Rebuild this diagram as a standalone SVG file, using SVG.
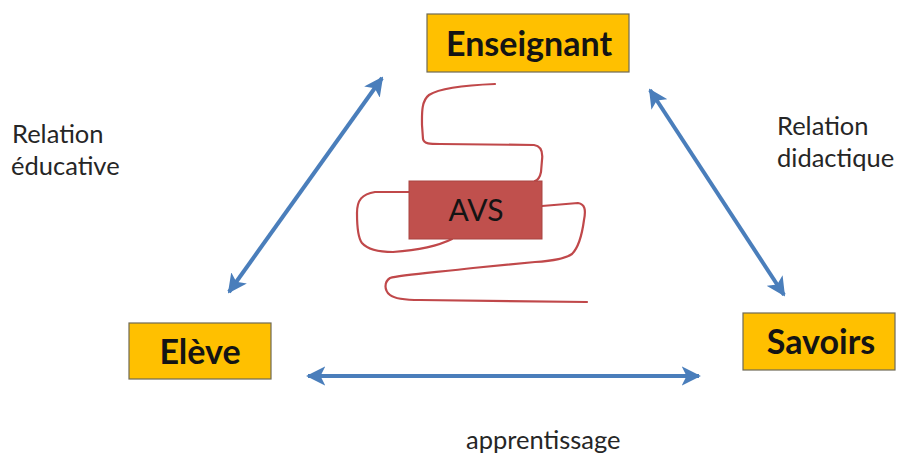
<svg xmlns="http://www.w3.org/2000/svg" width="897" height="455" viewBox="0 0 897 455">
  <style>
    .node rect { fill: #ffc000; stroke: #6f6a55; stroke-width: 1.2; }
    .node text { font-family: Lato, "Open Sans", sans-serif; font-weight: bold; font-size: 34px; fill: #141414; text-anchor: middle; }
    .label { font-family: Lato, "Open Sans", sans-serif; font-size: 25.5px; fill: #262626; }
    .link { stroke: #4a7ebb; stroke-width: 4; fill: none; marker-start: url(#head); marker-end: url(#head); }
    .scribble { stroke: #c0484a; stroke-width: 2.2; fill: none; stroke-linecap: round; stroke-linejoin: round; }
  </style>
  <defs>
    <marker id="head" viewBox="0 0 10 10" refX="9" refY="5" markerWidth="4.8" markerHeight="4.8" orient="auto-start-reverse" markerUnits="strokeWidth">
      <path d="M0,0 L10,5 L0,10 L2.5,5 Z" fill="#4a7ebb"/>
    </marker>
  </defs>

  <rect width="897" height="455" fill="#ffffff"/>

  <!-- connectors -->
  <g id="connectors">
    <line class="link" x1="229" y1="292" x2="382" y2="78"/>
    <line class="link" x1="650" y1="90" x2="784" y2="295"/>
    <line class="link" x1="308" y1="376" x2="699" y2="376"/>
  </g>

  <!-- hand-drawn scribble around the AVS box -->
  <g id="scribble">
    <path class="scribble" d="M495,84 C470,85 440,88 429,95 C421,101 422,115 422,125 L423,139 C424,144 430,144 440,144 L534,145 C541,146 543,152 542,160 L541,172 C540,177 538,180 535,181"/>
    <path class="scribble" d="M409,192 L375,192 C362,194 357,200 357,213 C357,228 358,238 362,243 C368,250 380,252 393,252 C420,250 440,245 452,239"/>
    <path class="scribble" d="M542,206 L578,203 C585,204 586,210 584,220 C582,235 578,248 572,254 C565,259 550,261 535,262 L473,268 C440,272 400,275 390,278 C384,282 384,290 390,295 C395,299 405,300 420,300 L587,302"/>
  </g>

  <g id="avs">
    <rect x="409" y="181" width="133" height="58" fill="#c0504d" stroke="#a94442" stroke-width="1"/>
    <text x="476" y="221" font-family="Lato, 'Open Sans', sans-serif" font-size="30" fill="#141414" text-anchor="middle">AVS</text>
  </g>

  <g id="enseignant" class="node">
    <rect x="427" y="14" width="202" height="58"/>
    <text x="529" y="56">Enseignant</text>
  </g>

  <g id="eleve" class="node">
    <rect x="129" y="323" width="142" height="56"/>
    <text x="200" y="364">Elève</text>
  </g>

  <g id="savoirs" class="node">
    <rect x="743" y="313" width="152" height="57"/>
    <text x="821" y="354">Savoirs</text>
  </g>

  <text class="label" x="12" y="143">Relation</text>
  <text class="label" x="11" y="175">éducative</text>
  <text class="label" x="777" y="135">Relation</text>
  <text class="label" x="777" y="167">didactique</text>
  <text class="label" x="466" y="449">apprentissage</text>
</svg>
